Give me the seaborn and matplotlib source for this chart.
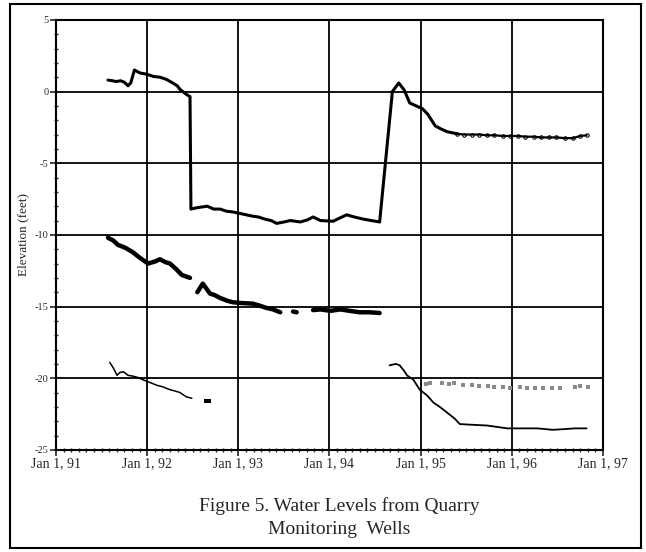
import numpy as np
import pandas as pd
import matplotlib.pyplot as plt
import matplotlib.patches as patches
import seaborn as sns

sns.set_style('ticks')
plt.rcParams['font.family'] = ['Liberation Serif', 'DejaVu Serif']

# 数据：时间用小数年份表示，高程单位为英尺
# 井 A（上方曲线）
well_a_year = [1991.57, 1991.62, 1991.66, 1991.71, 1991.75, 1991.79, 1991.82, 1991.86,
               1991.92, 1992.00, 1992.07, 1992.14, 1992.21, 1992.28, 1992.33, 1992.36,
               1992.43, 1992.47, 1992.48, 1992.55, 1992.66, 1992.73, 1992.80, 1992.87,
               1992.94, 1993.05, 1993.16, 1993.22, 1993.29, 1993.36, 1993.42, 1993.50,
               1993.57, 1993.68, 1993.76, 1993.82, 1993.90, 1994.04, 1994.12, 1994.19,
               1994.27, 1994.37, 1994.46, 1994.55, 1994.69, 1994.76, 1994.82, 1994.88,
               1994.95, 1995.02, 1995.08, 1995.16, 1995.22, 1995.29, 1995.40]
well_a_elev = [0.8, 0.75, 0.7, 0.75, 0.65, 0.4, 0.6, 1.5,
               1.3, 1.2, 1.05, 1.0, 0.85, 0.6, 0.4, 0.15,
               -0.2, -0.35, -8.2, -8.1, -8.0, -8.2, -8.2, -8.35,
               -8.4, -8.55, -8.7, -8.75, -8.9, -9.0, -9.2, -9.1,
               -9.0, -9.1, -8.95, -8.75, -9.0, -9.05, -8.8, -8.6,
               -8.75, -8.9, -9.0, -9.1, 0.0, 0.6, 0.1, -0.8,
               -1.0, -1.2, -1.6, -2.4, -2.6, -2.8, -2.95]
# 井 A 尾段（带小标记）
well_a_tail_year = [1995.40, 1995.48, 1995.56, 1995.64, 1995.73, 1995.81, 1995.90, 1995.98,
                    1996.07, 1996.15, 1996.24, 1996.32, 1996.41, 1996.49, 1996.58, 1996.67,
                    1996.75, 1996.82]
well_a_tail_elev = [-2.95, -3.0, -3.0, -3.0, -3.05, -3.05, -3.1, -3.1,
                    -3.1, -3.15, -3.15, -3.2, -3.2, -3.2, -3.25, -3.25,
                    -3.1, -3.05]

# 井 B（中间，分段散乱）
well_b_year = [1991.57, 1991.63, 1991.68, 1991.76, 1991.84, 1991.92, 1992.01, 1992.09,
               1992.14, 1992.20, 1992.25, 1992.32, 1992.38, 1992.47,
               1992.55, 1992.61, 1992.69, 1992.74, 1992.80, 1992.88, 1992.94, 1993.02,
               1993.16, 1993.24, 1993.31, 1993.38, 1993.46,
               1993.60, 1993.64,
               1993.82, 1993.90, 1994.01, 1994.12, 1994.22, 1994.33, 1994.44, 1994.55]
well_b_elev = [-10.2, -10.4, -10.7, -10.9, -11.2, -11.6, -12.0, -11.85,
               -11.7, -11.9, -12.0, -12.4, -12.8, -13.0,
               -14.0, -13.4, -14.1, -14.2, -14.4, -14.6, -14.7, -14.75,
               -14.8, -14.95, -15.1, -15.2, -15.4,
               -15.35, -15.4,
               -15.25, -15.2, -15.3, -15.2, -15.3, -15.4, -15.4, -15.45]
well_b_seg = [0] * 14 + [1] * 13 + [2] * 2 + [3] * 8

# 井 C（下方，早期与后期）
well_c1_year = [1991.59, 1991.63, 1991.67, 1991.70, 1991.74, 1991.79, 1991.84, 1991.90,
                1991.95, 1992.03, 1992.11, 1992.17, 1992.25, 1992.31, 1992.36, 1992.43,
                1992.49]
well_c1_elev = [-18.9, -19.3, -19.8, -19.6, -19.55, -19.8, -19.85, -19.95,
                -20.1, -20.3, -20.5, -20.6, -20.8, -20.9, -21.0, -21.3,
                -21.4]
well_c_dot_year = [1992.64, 1992.68]
well_c_dot_elev = [-21.6, -21.6]

well_c2_year = [1994.66, 1994.73, 1994.77, 1994.82, 1994.85, 1994.92, 1994.99, 1995.07,
                1995.14, 1995.21, 1995.29, 1995.37, 1995.43, 1995.57, 1995.73, 1995.84,
                1995.95, 1996.09, 1996.28, 1996.45, 1996.58, 1996.69, 1996.82]
well_c2_elev = [-19.1, -19.0, -19.1, -19.5, -19.8, -20.1, -20.8, -21.2,
                -21.7, -22.0, -22.4, -22.8, -23.2, -23.25, -23.3, -23.4,
                -23.5, -23.5, -23.5, -23.6, -23.55, -23.5, -23.5]

# 灰色点（-20 附近）
well_d_year = [1995.06, 1995.10, 1995.23, 1995.31, 1995.37, 1995.46, 1995.56, 1995.64,
               1995.74, 1995.81, 1995.90, 1995.98, 1996.09, 1996.17, 1996.25, 1996.34,
               1996.44, 1996.53, 1996.69, 1996.75, 1996.84]
well_d_elev = [-20.4, -20.35, -20.35, -20.4, -20.35, -20.45, -20.5, -20.55,
               -20.55, -20.6, -20.6, -20.65, -20.6, -20.65, -20.65, -20.65,
               -20.7, -20.7, -20.6, -20.55, -20.6]

year_ticks = [1991, 1992, 1993, 1994, 1995, 1996, 1997]
year_labels = ['Jan 1, 91', 'Jan 1, 92', 'Jan 1, 93', 'Jan 1, 94',
               'Jan 1, 95', 'Jan 1, 96', 'Jan 1, 97']
elev_ticks = [5, 0, -5, -10, -15, -20, -25]

fig = plt.figure(figsize=(6.46, 5.52), dpi=100)
ax = fig.add_axes([0.0867, 0.185, 0.8467, 0.779])

df_a = pd.DataFrame({'year': well_a_year, 'elev': well_a_elev})
df_a_tail = pd.DataFrame({'year': well_a_tail_year, 'elev': well_a_tail_elev})
df_b = pd.DataFrame({'year': well_b_year, 'elev': well_b_elev, 'seg': well_b_seg})
df_c1 = pd.DataFrame({'year': well_c1_year, 'elev': well_c1_elev})
df_c2 = pd.DataFrame({'year': well_c2_year, 'elev': well_c2_elev})
df_d = pd.DataFrame({'year': well_d_year, 'elev': well_d_elev})

sns.lineplot(data=df_a, x='year', y='elev', ax=ax, color='black', lw=2.2, sort=False)
sns.lineplot(data=df_a_tail, x='year', y='elev', ax=ax, color='black', lw=1.6,
             marker='o', markersize=2.5, markerfacecolor='none', markeredgecolor='black',
             sort=False)
sns.lineplot(data=df_b, x='year', y='elev', units='seg', estimator=None, ax=ax,
             color='black', lw=3.2, sort=False)
sns.lineplot(data=df_c1, x='year', y='elev', ax=ax, color='black', lw=1.1, sort=False)
sns.scatterplot(x=well_c_dot_year, y=well_c_dot_elev, ax=ax, color='black', s=12,
                marker='s', linewidth=0)
sns.lineplot(data=df_c2, x='year', y='elev', ax=ax, color='black', lw=1.3, sort=False)
sns.scatterplot(data=df_d, x='year', y='elev', ax=ax, color='#8a8a8a', s=10,
                marker='s', linewidth=0)

ax.set_xlim(1991, 1997)
ax.set_ylim(-25, 5)
ax.set_xticks(year_ticks)
ax.set_xticklabels(year_labels, fontsize=10)
ax.set_xticks(np.arange(1991, 1997, 1 / 12), minor=True)
ax.set_yticks(elev_ticks)
ax.set_yticklabels([str(v) for v in elev_ticks], fontsize=7.5)
ax.set_yticks(np.arange(-25, 6, 1), minor=True)
ax.tick_params(axis='both', which='major', direction='out', length=4, width=1.2, pad=1.5)
ax.tick_params(axis='both', which='minor', direction='inout', length=3, width=1)
ax.grid(True, which='major', color='black', lw=1.3)
for s in ax.spines.values():
    s.set_color('black')
    s.set_linewidth(1.5)
ax.set_xlabel('')
ax.set_ylabel('Elevation (feet)', fontsize=9.5, labelpad=4)

# 外框与图题
fig.patches.append(patches.Rectangle((10 / 646, 4 / 552), 631 / 646, 544 / 552,
                                     transform=fig.transFigure, fill=False,
                                     edgecolor='black', lw=1.5))
fig.text(0.525, 0.062, 'Figure 5. Water Levels from Quarry\nMonitoring  Wells',
         ha='center', va='center', fontsize=14, linespacing=1.45)

plt.savefig('out.png', dpi=100)
